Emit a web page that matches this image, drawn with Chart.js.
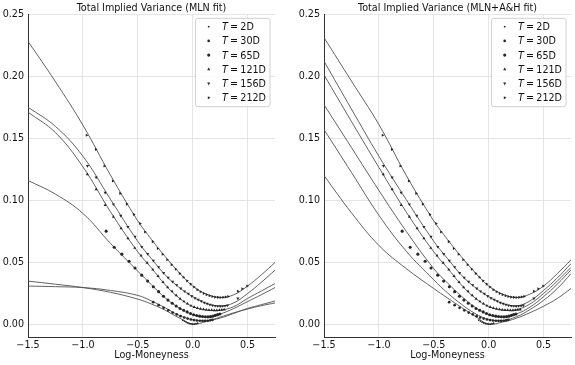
<!DOCTYPE html>
<html><head><meta charset="utf-8">
<script src="https://cdn.jsdelivr.net/npm/chart.js@4/dist/chart.umd.min.js"></script>
<style>
html,body{margin:0;padding:0;background:#fff;}
#wrap{position:relative;width:575px;height:365px;overflow:hidden;}
#c1{position:absolute;left:0;top:0;width:287px;height:365px;}
#c2{position:absolute;left:287px;top:0;width:288px;height:365px;}
</style></head><body>
<div id="wrap">
<canvas id="c1" width="287" height="365"></canvas>
<canvas id="c2" width="288" height="365"></canvas>
</div>
<script>
// ---------- data ----------
const maturities = ['2D','30D','65D','121D','156D','212D'];
const xTicks = [-1.5,-1.0,-0.5,0.0,0.5];
const xTickLabels = ['\u22121.5','\u22121.0','\u22120.5','0.0','0.5'];
const yTicks = [0,0.05,0.10,0.15,0.20,0.25];
const yTickLabels = ['0.00','0.05','0.10','0.15','0.20','0.25'];
const gridX = [-1.5,-1.25,-1.0,-0.75,-0.5,-0.375,-0.25,-0.125,0,0.125,0.25,0.375,0.5,0.625,0.75];

// MLN fit curves (left panel)
const mln2D   = [0.0350,0.0325,0.0298,0.0260,0.0205,0.0165,0.0115,0.0055,0.0004,0.0025,0.0060,0.0095,0.0125,0.0152,0.0174];
const mln30D  = [0.0310,0.0305,0.0298,0.0275,0.0235,0.0190,0.0135,0.0075,0.0040,0.0030,0.0052,0.0090,0.0130,0.0160,0.0190];
const mln65D  = [0.1160,0.1050,0.0895,0.0655,0.0430,0.0320,0.0215,0.0135,0.0080,0.0062,0.0085,0.0130,0.0185,0.0240,0.0298];
const mln121D = [0.1710,0.1545,0.1270,0.0910,0.0585,0.0455,0.0320,0.0215,0.0145,0.0118,0.0115,0.0145,0.0210,0.0270,0.0330];
const mln156D = [0.1750,0.1595,0.1355,0.1010,0.0670,0.0530,0.0400,0.0300,0.0225,0.0170,0.0148,0.0175,0.0250,0.0340,0.0438];
const mln212D = [0.2280,0.1955,0.1605,0.1205,0.0835,0.0685,0.0547,0.0420,0.0310,0.0245,0.0218,0.0240,0.0310,0.0400,0.0500];

// MLN + A&H fit curves (right panel)
const ah2D   = [0.1200,0.0900,0.0637,0.0450,0.0290,0.0214,0.0140,0.0068,0.0004,0.0020,0.0050,0.0095,0.0148,0.0210,0.0290];
const ah30D  = [0.1570,0.1225,0.0880,0.0590,0.0360,0.0255,0.0165,0.0090,0.0042,0.0032,0.0062,0.0120,0.0195,0.0290,0.0410];
const ah65D  = [0.1770,0.1425,0.1080,0.0750,0.0450,0.0335,0.0230,0.0140,0.0080,0.0062,0.0085,0.0140,0.0225,0.0325,0.0440];
const ah121D = [0.2010,0.1635,0.1265,0.0905,0.0585,0.0455,0.0320,0.0215,0.0145,0.0118,0.0120,0.0165,0.0250,0.0350,0.0460];
const ah156D = [0.2120,0.1735,0.1355,0.1005,0.0670,0.0532,0.0400,0.0300,0.0225,0.0170,0.0150,0.0190,0.0275,0.0375,0.0490];
const ah212D = [0.2310,0.1960,0.1610,0.1200,0.0835,0.0685,0.0547,0.0420,0.0310,0.0245,0.0218,0.0245,0.0310,0.0410,0.0520];

// market points (same in both panels)
const pts2D = [[-0.090,0.0036],[-0.075,0.0028],[-0.060,0.0020],[-0.045,0.0013],[-0.030,0.0008],[-0.015,0.0005],[0.000,0.0003],[0.015,0.0004],[0.030,0.0007],[0.045,0.0011]];
const pts30D = [[-0.360,0.0180],[-0.310,0.0156],[-0.265,0.0135],[-0.222,0.0115],[-0.182,0.0097],[-0.145,0.0082],[-0.110,0.0068],[-0.077,0.0057],[-0.046,0.0048],[-0.016,0.0041],[0.012,0.0036],[0.039,0.0033],[0.065,0.0031],[0.090,0.0030],[0.114,0.0030],[0.137,0.0031],[0.159,0.0034],[0.180,0.0038]];
const pts65D = [[-0.788,0.0752],[-0.715,0.0623],[-0.645,0.0567],[-0.579,0.0510],[-0.525,0.0455],[-0.464,0.0398],[-0.410,0.0350],[-0.358,0.0305],[-0.310,0.0265],[-0.266,0.0228],[-0.225,0.0197],[-0.186,0.0172],[-0.150,0.0150],[-0.115,0.0130],[-0.082,0.0115],[-0.050,0.0102],[-0.020,0.0089],[0.009,0.0079],[0.037,0.0073],[0.064,0.0068],[0.090,0.0065],[0.115,0.0063],[0.139,0.0062],[0.162,0.0064],[0.184,0.0068],[0.206,0.0074],[0.227,0.0080],[0.248,0.0085]];
const pts121D = [[-0.960,0.1210],[-0.879,0.1089],[-0.797,0.0962],[-0.722,0.0868],[-0.652,0.0774],[-0.590,0.0694],[-0.528,0.0617],[-0.470,0.0556],[-0.415,0.0497],[-0.363,0.0442],[-0.315,0.0390],[-0.270,0.0342],[-0.228,0.0300],[-0.188,0.0267],[-0.150,0.0236],[-0.114,0.0207],[-0.080,0.0186],[-0.047,0.0168],[-0.016,0.0152],[0.014,0.0141],[0.043,0.0133],[0.071,0.0127],[0.098,0.0122],[0.124,0.0119],[0.149,0.0117],[0.173,0.0116],[0.197,0.0115],[0.220,0.0115],[0.243,0.0116],[0.265,0.0118],[0.287,0.0121]];
const pts156D = [[-0.958,0.1277],[-0.879,0.1185],[-0.797,0.1061],[-0.722,0.0968],[-0.655,0.0876],[-0.590,0.0787],[-0.525,0.0707],[-0.464,0.0626],[-0.410,0.0568],[-0.358,0.0514],[-0.310,0.0463],[-0.265,0.0416],[-0.223,0.0378],[-0.183,0.0346],[-0.145,0.0318],[-0.108,0.0291],[-0.073,0.0268],[-0.040,0.0248],[-0.008,0.0229],[0.022,0.0213],[0.051,0.0200],[0.079,0.0188],[0.106,0.0177],[0.132,0.0168],[0.157,0.0161],[0.181,0.0155],[0.205,0.0151],[0.228,0.0149],[0.251,0.0148],[0.273,0.0149],[0.295,0.0151],[0.316,0.0154],[0.412,0.0210]];
const pts212D = [[-0.966,0.1524],[-0.882,0.1410],[-0.804,0.1277],[-0.727,0.1156],[-0.660,0.1056],[-0.600,0.0970],[-0.536,0.0887],[-0.479,0.0814],[-0.434,0.0745],[-0.364,0.0668],[-0.318,0.0612],[-0.274,0.0566],[-0.232,0.0522],[-0.192,0.0482],[-0.154,0.0446],[-0.118,0.0412],[-0.083,0.0381],[-0.050,0.0352],[-0.018,0.0326],[0.013,0.0302],[0.043,0.0281],[0.072,0.0264],[0.100,0.0251],[0.127,0.0241],[0.154,0.0233],[0.180,0.0226],[0.205,0.0221],[0.230,0.0219],[0.254,0.0218],[0.278,0.0219],[0.301,0.0222],[0.324,0.0226],[0.412,0.0268],[0.452,0.0288],[0.497,0.0310]];

// ---------- styles ----------
const FONT = 'DejaVu Sans';
const FS = 9.6;
const markerStyles = [
  {s:'circle', r:0.9, rot:0},
  {s:'circle', r:1.35, rot:0},
  {s:'circle', r:1.55, rot:0},
  {s:'triangle', r:1.8, rot:0},
  {s:'triangle', r:1.8, rot:180},
  {s:'triangle', r:1.8, rot:90}
];
const pointColor = '#262626';
const lineColor = '#505050';

const legendPlugin = {
  id: 'boxLegend',
  afterDatasetsDraw(chart, args, opts) {
    const ctx = chart.ctx, a = chart.chartArea;
    ctx.save();
    // title
    ctx.fillStyle = '#111';
    ctx.font = FS + 'px "' + FONT + '"';
    ctx.textAlign = 'center';
    ctx.textBaseline = 'alphabetic';
    ctx.fillText(opts.title, (a.left + a.right) / 2, 11);
    // legend box
    const w = 74.6, h = 88.4;
    const x0 = a.right - 5 - w, y0 = a.top + 4.3;
    ctx.beginPath();
    if (ctx.roundRect) ctx.roundRect(x0, y0, w, h, 2.5); else ctx.rect(x0, y0, w, h);
    ctx.fillStyle = 'rgba(255,255,255,0.85)';
    ctx.fill();
    ctx.strokeStyle = '#d0d0d0';
    ctx.lineWidth = 1;
    ctx.stroke();
    ctx.textAlign = 'left';
    maturities.forEach((m, i) => {
      const ry = y0 + 8.4 + i * 14.2;
      const ms = markerStyles[i];
      ctx.fillStyle = pointColor;
      ctx.strokeStyle = pointColor;
      Chart.helpers.drawPoint(ctx, {pointStyle: ms.s, radius: ms.r, rotation: ms.rot, borderWidth: 0}, x0 + 13.3, ry);
      let tx = x0 + 26.6;
      const by = ry + 3.5;
      ctx.fillStyle = '#111';
      ctx.font = 'italic ' + FS + 'px "' + FONT + '"';
      ctx.fillText('T', tx, by);
      tx += ctx.measureText('T').width + 2.2;
      ctx.font = FS + 'px "' + FONT + '"';
      ctx.fillText('=', tx, by);
      tx += ctx.measureText('=').width + 2.2;
      ctx.fillText(m, tx, by);
    });
    ctx.restore();
  }
};

function makeChart(id, title, fits, padRight, yWidth) {
  const datasets = [];
  const pts = [pts2D, pts30D, pts65D, pts121D, pts156D, pts212D];
  maturities.forEach((m, i) => {
    datasets.push({
      label: 'fit ' + m,
      data: gridX.map((x, j) => ({x: x, y: fits[i][j]})),
      borderColor: lineColor, borderWidth: 0.9,
      pointRadius: 0, fill: false, showLine: true,
      tension: 0.4, order: 2
    });
  });
  maturities.forEach((m, i) => {
    const ms = markerStyles[i];
    datasets.push({
      label: 'T=' + m,
      data: pts[i].map(p => ({x: p[0], y: p[1]})),
      showLine: false,
      backgroundColor: pointColor, borderColor: pointColor, borderWidth: 0,
      pointRadius: ms.r, pointStyle: ms.s, pointRotation: ms.rot,
      order: 1
    });
  });
  const tickFont = {family: FONT, size: FS};
  return new Chart(document.getElementById(id), {
    type: 'line',
    data: {datasets: datasets},
    plugins: [legendPlugin],
    options: {
      responsive: false, animation: false, devicePixelRatio: 1,
      layout: {padding: {left: 0, right: padRight, top: 14, bottom: 0}},
      plugins: {
        legend: {display: false}, tooltip: {enabled: false}, title: {display: false},
        boxLegend: {title: title}
      },
      scales: {
        x: {
          type: 'linear', min: -1.5, max: 0.75,
          afterBuildTicks: s => { s.ticks = xTicks.map(v => ({value: v})); },
          afterFit: s => { s.height = 28; },
          grid: {color: '#dedede', lineWidth: 0.8, drawTicks: false},
          border: {display: true, color: '#333', width: 1},
          ticks: {padding: 3, color: '#111', font: tickFont, maxRotation: 0, autoSkip: false,
                  callback: (v, i) => xTickLabels[i]},
          title: {display: true, text: 'Log-Moneyness', color: '#111', font: tickFont, padding: {top: 0, bottom: 4}}
        },
        y: {
          type: 'linear', min: -0.01, max: 0.25,
          afterBuildTicks: s => { s.ticks = yTicks.map(v => ({value: v})); },
          afterFit: s => { s.width = yWidth; },
          grid: {color: '#dedede', lineWidth: 0.8, drawTicks: false},
          border: {display: true, color: '#333', width: 1},
          ticks: {padding: 4, color: '#111', font: tickFont, autoSkip: false,
                  callback: (v, i) => yTickLabels[i]}
        }
      }
    }
  });
}

makeChart('c1', 'Total Implied Variance (MLN fit)', [mln2D, mln30D, mln65D, mln121D, mln156D, mln212D], 12, 28);
makeChart('c2', 'Total Implied Variance (MLN+A&H fit)', [ah2D, ah30D, ah65D, ah121D, ah156D, ah212D], 3.5, 37);
</script>
</body></html>
